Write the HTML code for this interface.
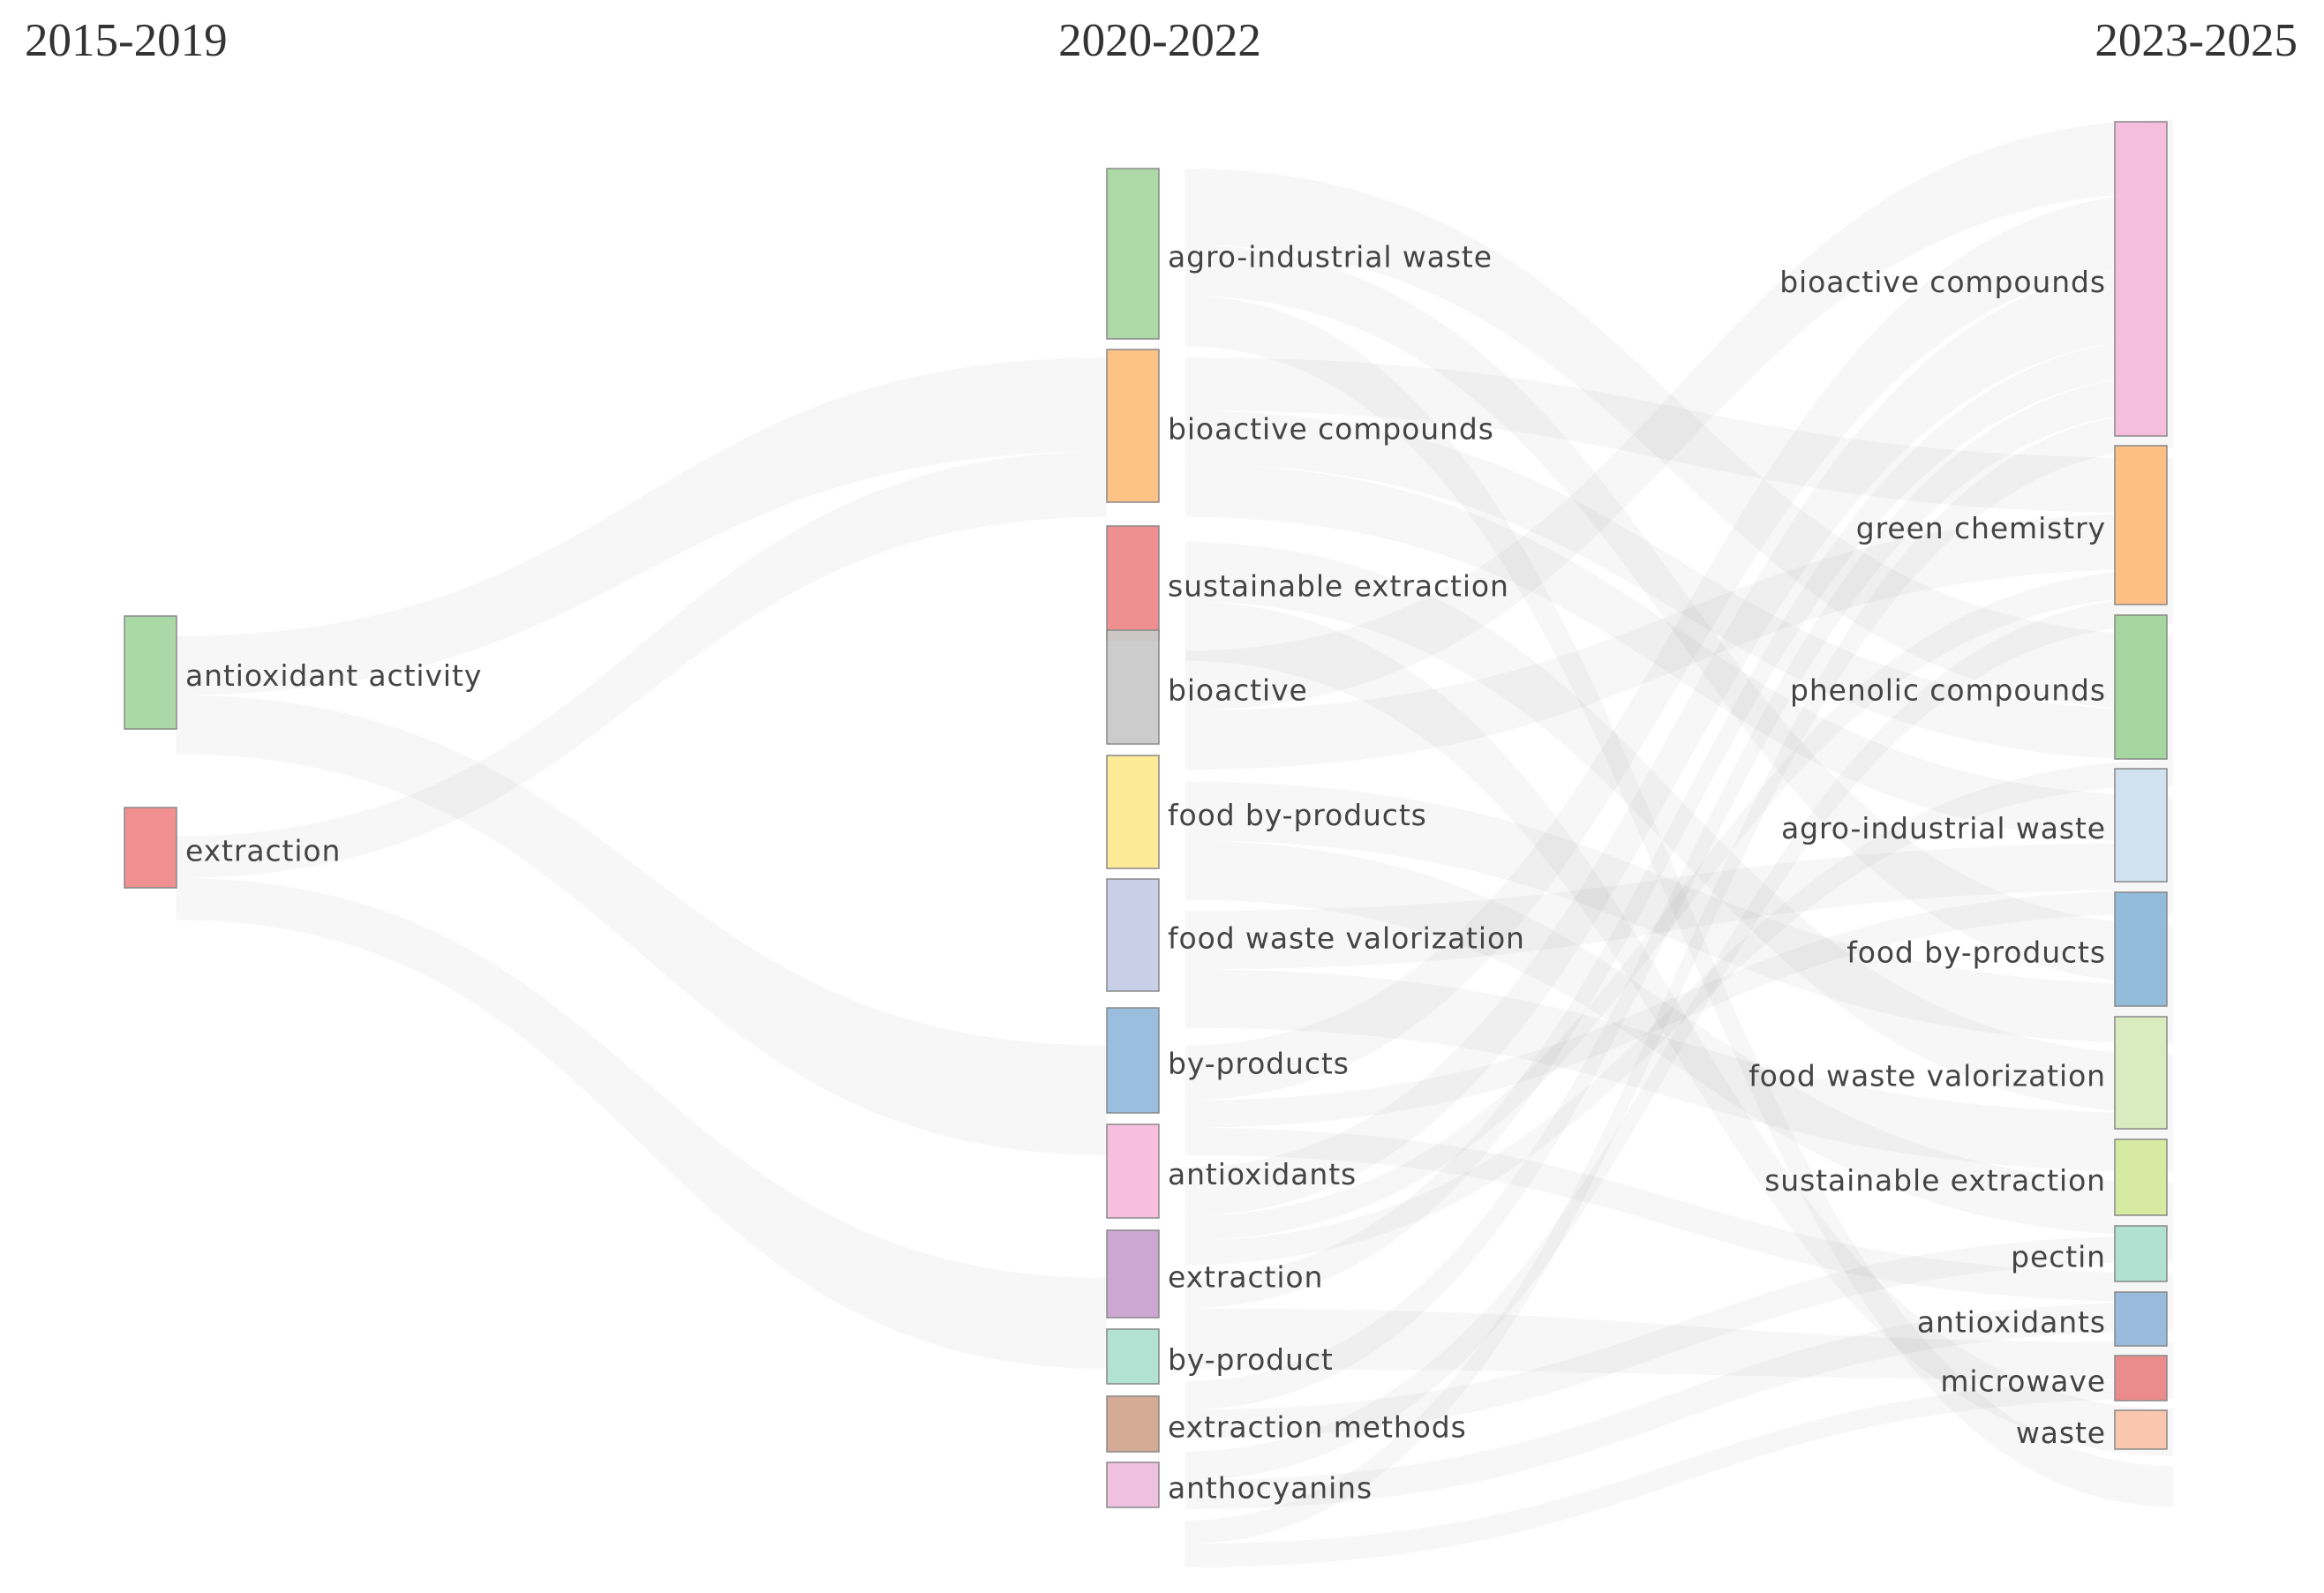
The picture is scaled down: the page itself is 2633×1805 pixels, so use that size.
<!DOCTYPE html>
<html><head><meta charset="utf-8">
<style>
html,body{margin:0;padding:0;background:#fff;}
svg{display:block;}
.lbl{font-family:"DejaVu Sans","Liberation Sans",sans-serif;font-size:33px;letter-spacing:0.9px;fill:#444;}
.hdr{font-family:"Liberation Serif",serif;font-size:53px;fill:#333;}
</style></head>
<body>
<svg id="chart" width="2633" height="1805" viewBox="0 0 2633 1805" xmlns="http://www.w3.org/2000/svg">
<text class="hdr" x="28" y="63">2015-2019</text>
<text class="hdr" x="1314" y="63" text-anchor="middle">2020-2022</text>
<text class="hdr" x="2603" y="63" text-anchor="end">2023-2025</text>
<g id="links"></g>
<g id="nodes"></g>
</svg>
<script>
const leftLabels = ["antioxidant activity","extraction"];
const leftColors = ["#a6d7a0","#ef8a8a"];
const leftTop = [698,915];
const leftBottom = [826,1006];

const midLabels = ["agro-industrial waste","bioactive compounds","sustainable extraction","bioactive","food by-products","food waste valorization","by-products","antioxidants","extraction","by-product","extraction methods","anthocyanins"];
const midColors = ["#a8d7a0","#fdbf80","#ee8a8a","#c9c9c9","#fde990","#c5cce6","#95bbdb","#f8bbdc","#c9a2cf","#aee0d0","#d2a68e","#efbddf"];
const midTop = [191,396,596,714,856,996,1142,1274,1394,1506,1582,1657];
const midBottom = [384,569,725,843,984,1123,1261,1380,1493,1568,1645,1708];

const rightLabels = ["bioactive compounds","green chemistry","phenolic compounds","agro-industrial waste","food by-products","food waste valorization","sustainable extraction","pectin","antioxidants","microwave","waste"];
const rightColors = ["#f6badb","#fdbc7c","#a2d59b","#cde0ee","#8db7d8","#d6ebbc","#d4e99c","#acdfcf","#94b7da","#ea8686","#f9c4aa"];
const rightTop = [138,505,697,871,1011,1152,1291,1389,1464,1536,1598];
const rightBottom = [494,685,860,999,1140,1279,1377,1452,1525,1587,1642];

const lmSource = [0,0,1,1];
const lmTarget = [1,6,1,8];
const lmValue = [2,2,1.4,1.4];
const mrSource = [0,0,0,1,1,1,2,2,3,3,4,4,5,5,6,6,6,7,7,7,8,8,9,9,10,10,11,11];
const mrTarget = [2,4,10,1,2,3,5,9,1,0,4,6,5,3,0,3,7,0,1,2,0,8,0,6,7,1,0,8];
const mrValue = [3,2,2,2,2,2,2,2,2,2,2,2,2,2,2,1,1,2,1,1,1,2,1,1,1,1,1,1];

const NS="http://www.w3.org/2000/svg";
const linksG=document.getElementById('links');
const nodesG=document.getElementById('nodes');
const ly = y => 1.0448*y - 8.6;

function stack(srcArr,tgtArr,valArr,sTop,sBot,tTop,tBot){
  const nS=sTop.length,nT=tTop.length;
  const outSum=new Array(nS).fill(0), inSum=new Array(nT).fill(0);
  valArr.forEach((v,i)=>{outSum[srcArr[i]]+=v;inSum[tgtArr[i]]+=v;});
  const so=new Array(nS).fill(0), to=new Array(nT).fill(0);
  const res=[];
  const idx=valArr.map((v,i)=>i);
  const byS=[...idx].sort((a,b)=>srcArr[a]-srcArr[b]||tgtArr[a]-tgtArr[b]);
  const byT=[...idx].sort((a,b)=>tgtArr[a]-tgtArr[b]||srcArr[a]-srcArr[b]);
  const sPos={},tPos={};
  byS.forEach(i=>{const s=srcArr[i];const h=(sBot[s]-sTop[s])*valArr[i]/outSum[s];sPos[i]=[sTop[s]+so[s],sTop[s]+so[s]+h];so[s]+=h;});
  byT.forEach(i=>{const t=tgtArr[i];const h=(tBot[t]-tTop[t])*valArr[i]/inSum[t];tPos[i]=[tTop[t]+to[t],tTop[t]+to[t]+h];to[t]+=h;});
  idx.forEach(i=>res.push([sPos[i],tPos[i]]));
  return res;
}
function drawLinks(list,x1,x2,name){
  const xm=(x1+x2)/2;
  list.forEach(([s,t],k)=>{
    const a=ly(s[0]),b=ly(s[1]),c=ly(t[0]),d=ly(t[1]);
    const p=document.createElementNS(NS,'path');
    p.setAttribute('d',`M${x1},${a} C${xm},${a} ${xm},${c} ${x2},${c} L${x2},${d} C${xm},${d} ${xm},${b} ${x1},${b} Z`);
    p.setAttribute('fill','rgba(0,0,0,0.03)');
    
    
    linksG.appendChild(p);
  });
}
drawLinks(stack(lmSource,lmTarget,lmValue,leftTop,leftBottom,midTop,midBottom),200,1254,'link-left-mid');
drawLinks(stack(mrSource,mrTarget,mrValue,midTop,midBottom,rightTop,rightBottom),1343,2462,'link-mid-right');

function drawNodes(labels,colors,tops,bots,x,anchor,lx,col){
  labels.forEach((lab,i)=>{
    const r=document.createElementNS(NS,'rect');
    r.setAttribute('x',x);r.setAttribute('y',tops[i]);
    r.setAttribute('width',59);r.setAttribute('height',bots[i]-tops[i]);
    r.setAttribute('fill',colors[i]);r.setAttribute('fill-opacity','0.95');
    r.setAttribute('stroke','#888');r.setAttribute('stroke-width','1.5');
    
    
    nodesG.appendChild(r);
    const t=document.createElementNS(NS,'text');
    t.setAttribute('x',lx);t.setAttribute('y',(tops[i]+bots[i])/2+15);
    t.setAttribute('class','lbl');t.setAttribute('text-anchor',anchor);
    t.textContent=lab;
    
    
    nodesG.appendChild(t);
  });
}
drawNodes(leftLabels,leftColors,leftTop,leftBottom,141,'start',210,'left');
drawNodes(midLabels,midColors,midTop,midBottom,1254,'start',1323,'mid');
drawNodes(rightLabels,rightColors,rightTop,rightBottom,2396,'end',2386,'right');
</script>
</body></html>
